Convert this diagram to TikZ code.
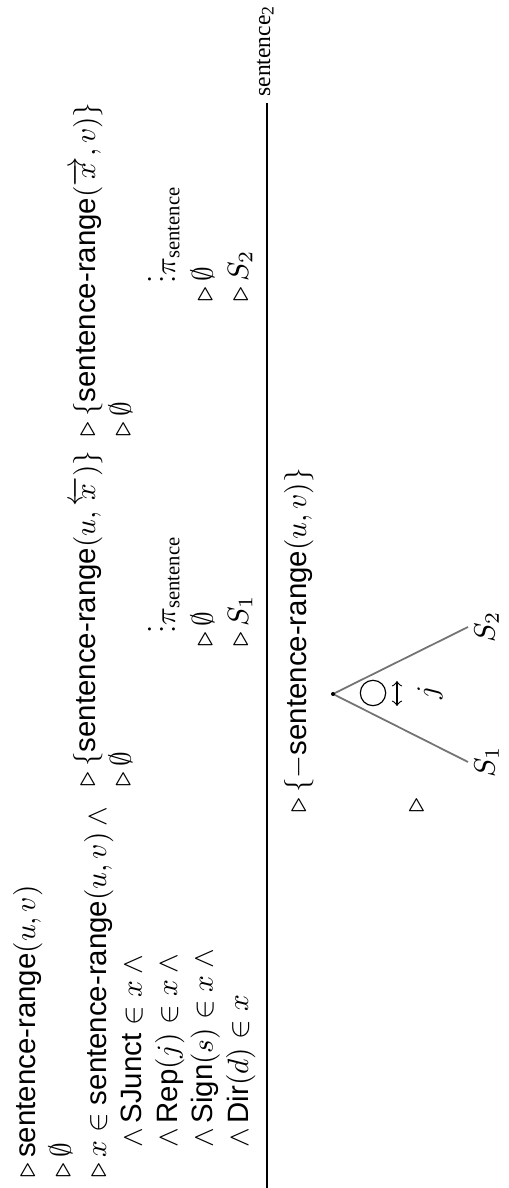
\documentclass[tikz,border=0pt]{standalone}
\usepackage{amsmath}
\usepackage[no-math]{fontspec}
\setsansfont{Liberation Sans}
\newfontfamily\timesfont{Liberation Serif}
\usepackage{tikz}

\newcommand{\srange}{\textsf{sentence-range}}
\newcommand{\psent}{\pi_{\text{\timesfont sentence}}}

\tikzset{
    proofrow/.style={anchor=base west, inner sep=0pt},
    branch/.style={draw=black!55, line width=0.6pt}
}

\begin{document}
\begin{tikzpicture}[x=0.34pt, y=0.34pt]
\begin{scope}[rotate=90, transform shape]
\useasboundingbox (0,0) rectangle (1188,-509);

% left premise
\node[proofrow] (la) at (10,-35)    {$\triangleright\,\srange(u,v)$};
\node[proofrow] (lb) at (10,-70.5)  {$\triangleright\,\emptyset$};
\node[proofrow] (lc) at (10,-106)   {$\triangleright\,x \in \srange(u,v) \wedge{}$};
\node[proofrow] (ld) at (10,-141.5) {$\quad\wedge\,\textsf{SJunct} \in x \wedge{}$};
\node[proofrow] (le) at (10,-177)   {$\quad\wedge\,\textsf{Rep}(j) \in x \wedge{}$};
\node[proofrow] (lf) at (10,-212.5) {$\quad\wedge\,\textsf{Sign}(s) \in x \wedge{}$};
\node[proofrow] (lg) at (10,-248)   {$\quad\wedge\,\textsf{Dir}(d) \in x$};

% middle premise
\node[proofrow] (ma) at (401,-95)   {$\triangleright\,\{\srange(u,\overleftarrow{x})\}$};
\node[proofrow] (mb) at (401,-130.5){$\triangleright\,\emptyset$};
\node[proofrow] (mc) at (554,-175)  {$\vdots\psent$};
\node[proofrow] (md) at (541,-212.5){$\triangleright\,\emptyset$};
\node[proofrow] (me) at (541,-248)  {$\triangleright\,S_1$};

% right premise
\node[proofrow] (ra) at (751,-95)   {$\triangleright\,\{\srange(\overrightarrow{x},v)\}$};
\node[proofrow] (rb) at (751,-130.5){$\triangleright\,\emptyset$};
\node[proofrow] (rc) at (904,-175)  {$\vdots\psent$};
\node[proofrow] (rd) at (886,-212.5){$\triangleright\,\emptyset$};
\node[proofrow] (re) at (886,-248)  {$\triangleright\,S_2$};

% inference rule
\coordinate (rl) at (0,-267);
\coordinate (rr) at (1085,-267);
\draw[line width=0.4pt] (rl) -- (rr);
\node[proofrow, font=\timesfont\footnotesize] (lab) at (1091,-270) {sentence\textsubscript{2}};

% conclusion
\node[proofrow] (ca) at (375,-306) {$\triangleright\,\{-\srange(u,v)\}$};
\node[anchor=west, inner sep=0pt] (cb) at (375,-417) {$\triangleright$};

% tree
\coordinate (root) at (494,-333);
\coordinate (lone) at (426,-468);
\coordinate (ltwo) at (561,-468);
\coordinate (hub) at (495,-373);
\coordinate (arrl) at (482,-397);
\coordinate (arrr) at (507,-397);

\draw[branch] (lone) -- (root) -- (ltwo);
\fill (root) circle (2);
\draw[line width=0.4pt] (hub) circle (12.7);
\draw[<->, line width=0.4pt] (arrl) -- (arrr);

\node (jay) at (495,-430) {$j$};
\node[below, inner sep=2pt] (sone) at (lone) {$S_1$};
\node[below, inner sep=2pt] (stwo) at (ltwo) {$S_2$};

\end{scope}
\end{tikzpicture}
\end{document}
